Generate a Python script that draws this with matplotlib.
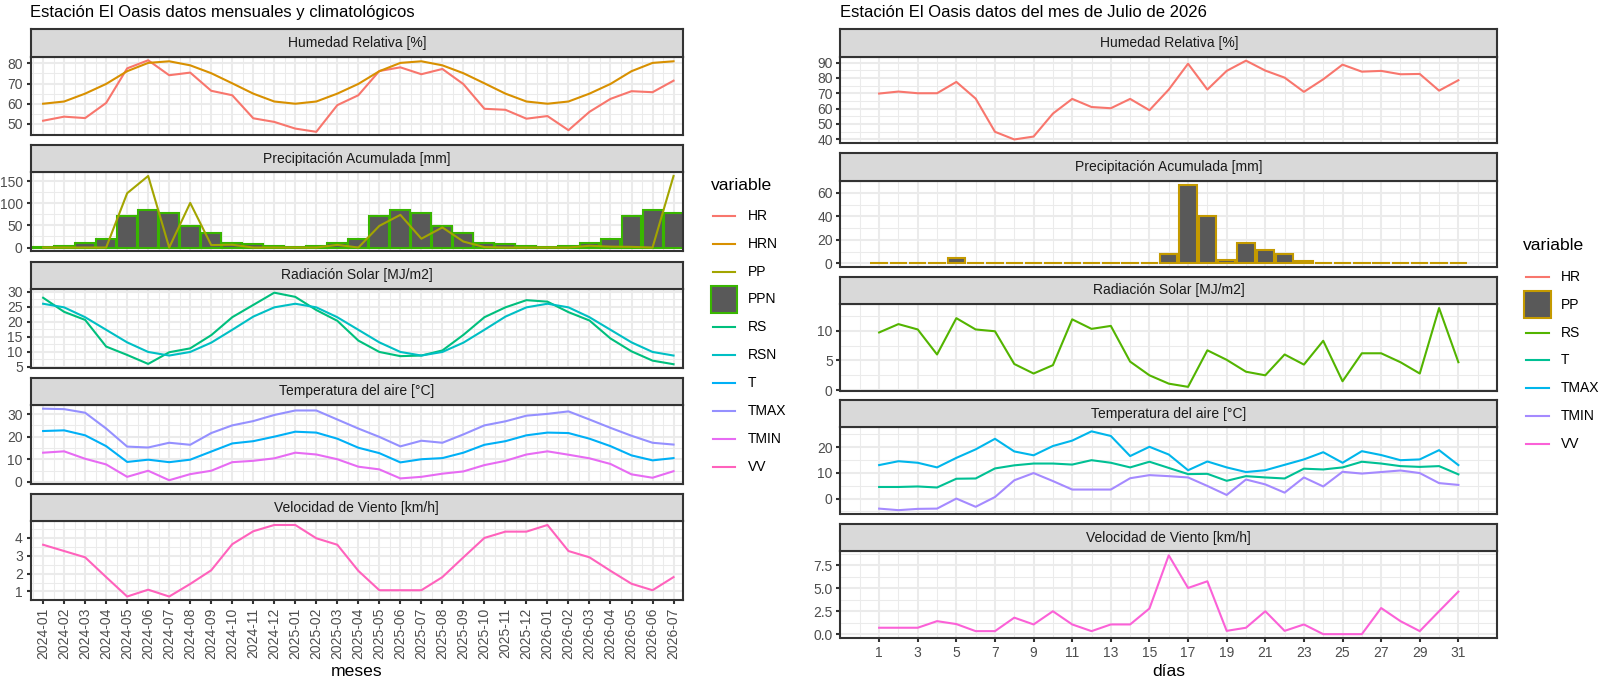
import matplotlib
matplotlib.use("Agg")
import matplotlib.pyplot as plt
from matplotlib.patches import Rectangle
from matplotlib.lines import Line2D
from matplotlib.ticker import MultipleLocator, FixedLocator, FormatStrFormatter

plt.rcParams['font.family'] = ['Liberation Sans', 'DejaVu Sans']

# ---- datos mensuales (izquierda) ----
meses = ["2024-01", "2024-02", "2024-03", "2024-04", "2024-05", "2024-06", "2024-07",
         "2024-08", "2024-09", "2024-10", "2024-11", "2024-12", "2025-01", "2025-02",
         "2025-03", "2025-04", "2025-05", "2025-06", "2025-07", "2025-08", "2025-09",
         "2025-10", "2025-11", "2025-12", "2026-01", "2026-02", "2026-03", "2026-04",
         "2026-05", "2026-06", "2026-07"]
HR = [51.6, 53.6, 52.9, 60.4, 77.5, 81.5, 74.1, 75.4, 66.4, 64.2, 52.8, 51.0, 47.7, 46.1,
      59.3, 64.2, 76.2, 78.0, 74.6, 77.2, 69.7, 57.5, 57.0, 52.6, 53.9, 46.9, 56.0, 62.4,
      66.2, 65.7, 71.4]
HRN = [60.0, 61.1, 65.0, 69.8, 76.1, 80.2, 81.0, 79.0, 75.1, 70.1, 65.0, 61.1, 60.0, 61.1,
       65.0, 69.8, 76.1, 80.2, 81.0, 79.0, 75.1, 70.1, 65.0, 61.1, 60.0, 61.1, 65.0, 69.8,
       76.1, 80.2, 81.0]
PP = [0, 0, 0, 0, 123, 162, 0, 101, 5.5, 6.3, 0, 0, 0, 0, 6, 0, 49, 74, 20, 45.5, 13.5,
      1, 0, 0, 0, 0, 4, 2, 1.5, 0, 162]
PPN = [0.5, 4, 10.5, 19.5, 71, 85.5, 78.5, 48.5, 33.5, 10.5, 7.5, 4.5, 0.5, 4, 10.5, 19.5,
       71, 85.5, 78.5, 48.5, 33.5, 10.5, 7.5, 4.5, 0.5, 4, 10.5, 19.5, 71, 85.5, 78.5]
RS = [28.0, 23.3, 20.6, 11.7, 8.9, 5.9, 9.8, 11.1, 15.5, 21.5, 25.6, 29.7, 28.3, 23.9,
      20.3, 13.7, 9.9, 8.5, 8.7, 10.4, 15.6, 21.5, 24.8, 27.2, 26.7, 23.2, 20.4, 14.4,
      10.1, 7.0, 5.8]
RSN = [26.0, 24.8, 21.5, 17.3, 13.1, 9.9, 8.7, 9.9, 13.0, 17.3, 21.7, 24.8, 26.0, 24.8,
       21.5, 17.3, 13.1, 9.9, 8.7, 9.9, 13.0, 17.3, 21.7, 24.8, 26.0, 24.8, 21.5, 17.3,
       13.1, 9.9, 8.7]
T = [22.5, 22.8, 20.6, 15.8, 8.8, 9.8, 8.7, 9.8, 13.4, 17.0, 18.0, 20.0, 22.2, 21.8, 19.1,
     15.1, 12.7, 8.6, 10.0, 10.5, 12.9, 16.4, 18.0, 20.6, 21.8, 21.6, 19.1, 15.8, 11.7,
     9.5, 10.5]
TMAX = [32.4, 32.2, 30.6, 23.6, 15.6, 15.2, 17.3, 16.4, 21.6, 25.0, 26.9, 29.6, 31.6, 31.6,
        27.6, 23.6, 19.9, 15.7, 18.2, 17.3, 21.0, 25.0, 26.8, 29.3, 30.1, 31.2, 27.6, 23.9,
        20.4, 17.3, 16.5]
TMIN = [12.9, 13.5, 10.2, 7.7, 2.2, 4.9, 0.7, 3.4, 4.9, 8.7, 9.3, 10.4, 12.9, 12.1, 10.0,
        6.7, 5.5, 1.5, 2.2, 3.6, 4.6, 7.4, 9.3, 12.1, 13.5, 12.0, 10.4, 7.9, 3.3, 1.8, 4.7]
VV = [3.6, 3.25, 2.9, 1.8, 0.72, 1.1, 0.72, 1.42, 2.18, 3.63, 4.35, 4.7, 4.7, 3.96, 3.6,
      2.15, 1.07, 1.07, 1.07, 1.8, 2.9, 3.98, 4.33, 4.33, 4.7, 3.25, 2.9, 2.15, 1.43, 1.07,
      1.8]

# ---- datos diarios julio 2026 (derecha) ----
dias = list(range(1, 32))
HR_d = [69.8, 71.1, 70.0, 70.0, 77.4, 66.5, 44.8, 39.8, 41.7, 56.7, 66.3, 61.0, 60.2, 66.3,
        58.9, 72.4, 89.3, 72.4, 84.6, 91.3, 84.8, 80.2, 70.9, 79.1, 88.7, 84.1, 84.6, 82.4,
        82.6, 71.7, 78.5]
PP_d = [0.2, 0.2, 0.2, 0.2, 4.8, 0.2, 0.2, 0.2, 0.2, 0.4, 0.2, 0.2, 0.2, 0.2, 0.2, 7.9,
        66.9, 40.7, 3.1, 17.4, 11.2, 7.9, 2.5, 0.6, 0.6, 0.6, 0.6, 0.6, 0.6, 0.6, 0.6]
RS_d = [9.7, 11.1, 10.2, 6.0, 12.1, 10.2, 9.9, 4.4, 2.8, 4.2, 11.9, 10.3, 10.8, 4.8, 2.5,
        1.1, 0.56, 6.7, 5.1, 3.1, 2.5, 6.0, 4.3, 8.3, 1.5, 6.2, 6.2, 4.7, 2.8, 13.8, 4.7]
TMAX_d = [13.0, 14.5, 13.9, 12.1, 15.8, 19.1, 23.2, 18.3, 16.8, 20.4, 22.5, 26.1, 24.3, 16.5,
          20.1, 17.1, 11.0, 14.4, 12.1, 10.3, 11.0, 13.1, 15.2, 18.0, 13.9, 18.4, 16.9, 14.9,
          15.2, 18.8, 13.0]
T_d = [4.5, 4.5, 4.7, 4.3, 7.7, 7.8, 11.7, 12.9, 13.6, 13.6, 13.2, 14.9, 13.9, 12.1, 14.3,
       11.9, 9.5, 9.6, 6.9, 8.7, 8.2, 7.8, 11.6, 11.3, 12.1, 14.3, 13.6, 12.6, 12.3, 12.6, 9.4]
TMIN_d = [-3.9, -4.5, -4.0, -3.9, 0.0, -3.2, 0.6, 7.1, 9.9, 6.8, 3.5, 3.5, 3.5, 7.9, 9.1,
          8.7, 8.2, 4.9, 1.4, 7.4, 5.5, 2.3, 8.2, 4.7, 10.4, 9.7, 10.3, 10.9, 9.9, 6.0, 5.3]
VV_d = [0.7, 0.7, 0.7, 1.42, 1.1, 0.33, 0.33, 1.8, 1.06, 2.5, 1.06, 0.33, 1.06, 1.06, 2.8,
        8.6, 5.04, 5.77, 0.36, 0.7, 2.5, 0.36, 1.06, 0.0, 0.0, 0.0, 2.85, 1.42, 0.33, 2.5,
        4.64]

# colores ggplot (hue)
col10 = {"HR": "#F8766D", "HRN": "#D89000", "PP": "#A3A500", "PPN": "#39B600",
         "RS": "#00BF7D", "RSN": "#00BFC4", "T": "#00B0F6", "TMAX": "#9590FF",
         "TMIN": "#E76BF3", "VV": "#FF62BC"}
col7 = {"HR": "#F8766D", "PP": "#C49A00", "RS": "#53B400", "T": "#00C094",
        "TMAX": "#00B6EB", "TMIN": "#A58AFF", "VV": "#FB61D7"}
BARFILL = "#595959"

W, H = 1600, 677
fig = plt.figure(figsize=(W / 100, H / 100), dpi=100)

LW = 1.5
FS = 10        # ticks, strips, leyenda
FS_T = 12.6    # titulos de ejes y leyenda
FS_TIT = 12    # titulo


def box(x0, y0, x1, y1):
    return [x0 / W, 1 - y1 / H, (x1 - x0) / W, (y1 - y0) / H]


def panel(x0, x1, top, sh, ph, titulo):
    ax = fig.add_axes(box(x0, top + sh, x1, top + sh + ph))
    sax = fig.add_axes(box(x0, top, x1, top + sh))
    sax.set_xticks([])
    sax.set_yticks([])
    sax.set_facecolor('#D9D9D9')
    for s in sax.spines.values():
        s.set_color('#333333')
        s.set_linewidth(LW)
    sax.text(0.5, 0.5, titulo, ha='center', va='center', fontsize=FS,
             color='#1A1A1A', transform=sax.transAxes)
    for s in ax.spines.values():
        s.set_color('#333333')
        s.set_linewidth(LW)
        s.set_zorder(5)
    ax.use_sticky_edges = False
    ax.margins(y=0.05)
    ax.set_axisbelow(True)
    ax.grid(which='major', color='#EBEBEB', lw=LW)
    ax.grid(which='minor', color='#EBEBEB', lw=LW / 2)
    ax.tick_params(which='major', length=3.1, width=LW, color='#333333',
                   labelsize=FS, labelcolor='#4D4D4D', pad=2.5)
    ax.tick_params(which='minor', length=0)
    return ax


def ejes_y(ax, paso, fmt=None):
    ax.yaxis.set_major_locator(MultipleLocator(paso))
    ax.yaxis.set_minor_locator(MultipleLocator(paso / 2))
    if fmt:
        ax.yaxis.set_major_formatter(FormatStrFormatter(fmt))


# ---------------- izquierda ----------------
LX0, LX1 = 30.5, 683
ltops = [29.3, 145, 261.7, 377.7, 494]
LSH, LPH = 27.4, 78.7
xm = list(range(len(meses)))
titulos = ["Humedad Relativa [%]", "Precipitación Acumulada [mm]", "Radiación Solar [MJ/m2]",
           "Temperatura del aire [°C]", "Velocidad de Viento [km/h]"]
laxes = [panel(LX0, LX1, t, LSH, LPH, tt) for t, tt in zip(ltops, titulos)]

a = laxes[0]
a.plot(xm, HR, color=col10["HR"], lw=LW)
a.plot(xm, HRN, color=col10["HRN"], lw=LW)
ejes_y(a, 10)
a = laxes[1]
a.bar(xm, PPN, width=0.95, color=BARFILL, edgecolor=col10["PPN"], lw=LW)
a.plot(xm, PP, color=col10["PP"], lw=LW)
ejes_y(a, 50)
a = laxes[2]
a.plot(xm, RS, color=col10["RS"], lw=LW)
a.plot(xm, RSN, color=col10["RSN"], lw=LW)
ejes_y(a, 5)
a = laxes[3]
a.plot(xm, T, color=col10["T"], lw=LW)
a.plot(xm, TMAX, color=col10["TMAX"], lw=LW)
a.plot(xm, TMIN, color=col10["TMIN"], lw=LW)
ejes_y(a, 10)
a = laxes[4]
a.plot(xm, VV, color=col10["VV"], lw=LW)
ejes_y(a, 1)

for i, a in enumerate(laxes):
    a.set_xlim(-0.6, 30.45)
    a.xaxis.set_major_locator(FixedLocator(xm))
    a.xaxis.set_minor_locator(FixedLocator([v - 0.5 for v in xm]))
    if i < 4:
        a.tick_params(axis='x', which='major', length=0, labelbottom=False)
laxes[4].set_xticklabels(meses, rotation=90, va='top', ha='center')
fig.text((LX0 + LX1) / 2 / W, 1 - 676 / H, "meses", ha='center', va='baseline',
         fontsize=FS_T)
fig.text(LX0 / W, 1 - 17 / H, "Estación El Oasis datos mensuales y climatológicos",
         ha='left', va='baseline', fontsize=FS_TIT)

# ---------------- derecha ----------------
RX0, RX1 = 840.5, 1497
rtops = [29.3, 153.3, 276.7, 400, 524]
RSH, RPH = 27.4, 86.7
raxes = [panel(RX0, RX1, t, RSH, RPH, tt) for t, tt in zip(rtops, titulos)]

a = raxes[0]
a.plot(dias, HR_d, color=col7["HR"], lw=LW)
ejes_y(a, 10)
a = raxes[1]
a.bar(dias, PP_d, width=0.9, color=BARFILL, edgecolor=col7["PP"], lw=LW)
ejes_y(a, 20)
a = raxes[2]
a.plot(dias, RS_d, color=col7["RS"], lw=LW)
ejes_y(a, 5)
a = raxes[3]
a.plot(dias, T_d, color=col7["T"], lw=LW)
a.plot(dias, TMAX_d, color=col7["TMAX"], lw=LW)
a.plot(dias, TMIN_d, color=col7["TMIN"], lw=LW)
ejes_y(a, 10)
a = raxes[4]
a.plot(dias, VV_d, color=col7["VV"], lw=LW)
ejes_y(a, 2.5, '%.1f')

for i, a in enumerate(raxes):
    a.set_xlim(-1, 33)
    a.xaxis.set_major_locator(FixedLocator(dias[::2]))
    a.xaxis.set_minor_locator(FixedLocator(list(range(0, 33, 2))))
    if i < 4:
        a.tick_params(axis='x', which='major', length=0, labelbottom=False)
fig.text((RX0 + RX1) / 2 / W, 1 - 676 / H, "días", ha='center', va='baseline',
         fontsize=FS_T)
fig.text(RX0 / W, 1 - 17 / H, "Estación El Oasis datos del mes de Julio de 2026",
         ha='left', va='baseline', fontsize=FS_TIT)


# ---------------- leyendas ----------------
def leyenda(x_tit, y_tit, kx0, kx1, lx, y0, dy, nombres, colores, barra, borde):
    fig.text(x_tit / W, 1 - y_tit / H, "variable", ha='left', va='center', fontsize=FS_T)
    for k, n in enumerate(nombres):
        y = y0 + k * dy
        if n == barra:
            fig.add_artist(Rectangle((kx0 / W, 1 - (y + 13.3) / H), (kx1 - kx0) / W,
                                     26.6 / H, transform=fig.transFigure,
                                     facecolor=BARFILL, edgecolor=borde, lw=LW))
        else:
            fig.add_artist(Line2D([(kx0 + 2) / W, (kx1 - 2) / W], [1 - y / H] * 2,
                                  transform=fig.transFigure, color=colores[n], lw=LW))
        fig.text(lx / W, 1 - y / H, n, ha='left', va='center', fontsize=FS)


leyenda(711, 185, 711, 737.3, 747.7, 215.7, 27.9, list(col10.keys()), col10, "PPN",
        col10["PPN"])
leyenda(1523, 246, 1524, 1551, 1561, 276.7, 27.9, list(col7.keys()), col7, "PP",
        col7["PP"])

fig.savefig("out.png", dpi=100)
